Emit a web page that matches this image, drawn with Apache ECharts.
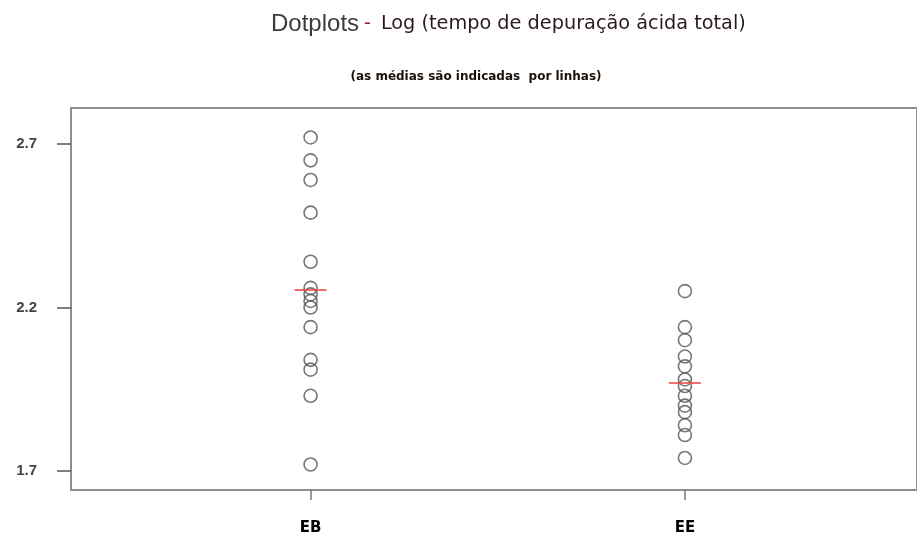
<!DOCTYPE html>
<html>
<head>
<meta charset="utf-8">
<script src="https://cdn.jsdelivr.net/npm/echarts@6/dist/echarts.min.js"></script>
<style>
  html, body { margin: 0; padding: 0; background: #fff; }
  #chart { width: 917px; height: 538px; }
</style>
</head>
<body>
<div id="chart"></div>
<script>
// Groups on the horizontal axis
const groups = ['EB', 'EE'];

// Log of total acid clearance time, one value per subject
const valuesEB = [2.72, 2.65, 2.59, 2.49, 2.34, 2.26, 2.24, 2.22, 2.20, 2.14, 2.04, 2.01, 1.93, 1.72];
const valuesEE = [2.25, 2.14, 2.10, 2.05, 2.02, 1.98, 1.96, 1.93, 1.90, 1.88, 1.84, 1.81, 1.74];

// Tick labels on the value axis
const yTicks = [1.7, 2.2, 2.7];

const groupValues = [valuesEB, valuesEE];
const mean = arr => arr.reduce((a, b) => a + b, 0) / arr.length;

const dots = [];
groupValues.forEach((vals, gi) => vals.forEach(v => dots.push([gi, v])));
const means = groupValues.map((vals, gi) => [gi, mean(vals)]);

const chart = echarts.init(document.getElementById('chart'));
chart.setOption({
  animation: false,
  backgroundColor: '#ffffff',
  title: [
    {
      text: '{a|Dotplots} {b|-}  {c|Log (tempo de depuração ácida total)}',
      left: 266,
      top: 7,
      textStyle: {
        fontWeight: 'normal',
        rich: {
          a: { fontFamily: 'Liberation Sans', fontSize: 24, fontWeight: 'normal', color: '#3c3c3c' },
          b: { fontFamily: 'DejaVu Sans', fontSize: 19, fontWeight: 'normal', color: '#8a2a1a' },
          c: { fontFamily: 'DejaVu Sans', fontSize: 19.3, fontWeight: 'normal', color: '#2a1a1e' }
        }
      }
    },
    {
      text: '(as médias são indicadas  por linhas)',
      left: 471,
      textAlign: 'center',
      top: 66,
      textStyle: { fontFamily: 'DejaVu Sans', fontSize: 12, fontWeight: 'bold', color: '#1a1008' }
    }
  ],
  grid: {
    left: 71, top: 108, right: -5, bottom: 48,
    show: true, borderColor: '#8e8e8e', borderWidth: 2
  },
  xAxis: {
    type: 'value',
    min: -0.64, max: 1.62,
    splitLine: { show: false },
    axisLine: { show: false, onZero: false },
    axisTick: { show: true, length: 10, lineStyle: { color: '#777', width: 1.5 }, customValues: [0, 1] },
    axisLabel: {
      customValues: [0, 1],
      formatter: v => groups[Math.round(v)],
      margin: 31,
      fontFamily: 'DejaVu Sans', fontSize: 15, fontWeight: 'bold', color: '#000'
    }
  },
  yAxis: {
    type: 'value',
    min: 1.642, max: 2.81,
    splitLine: { show: false },
    axisLine: { show: false, onZero: false },
    axisTick: { show: true, length: 14, lineStyle: { color: '#555', width: 1.5 }, customValues: yTicks },
    axisLabel: {
      customValues: yTicks,
      formatter: v => v.toFixed(1),
      margin: 34,
      fontFamily: 'Liberation Sans', fontSize: 15, fontWeight: 'bold', color: '#444'
    }
  },
  series: [
    {
      type: 'scatter',
      data: dots,
      symbol: 'circle',
      symbolSize: 13,
      itemStyle: { color: 'rgba(255,255,255,0)', borderColor: '#555', borderWidth: 1.6 },
      z: 2
    },
    {
      type: 'scatter',
      data: means,
      symbol: 'rect',
      symbolSize: [32, 2],
      itemStyle: { color: '#f04848' },
      z: 3
    }
  ]
});
</script>
</body>
</html>
